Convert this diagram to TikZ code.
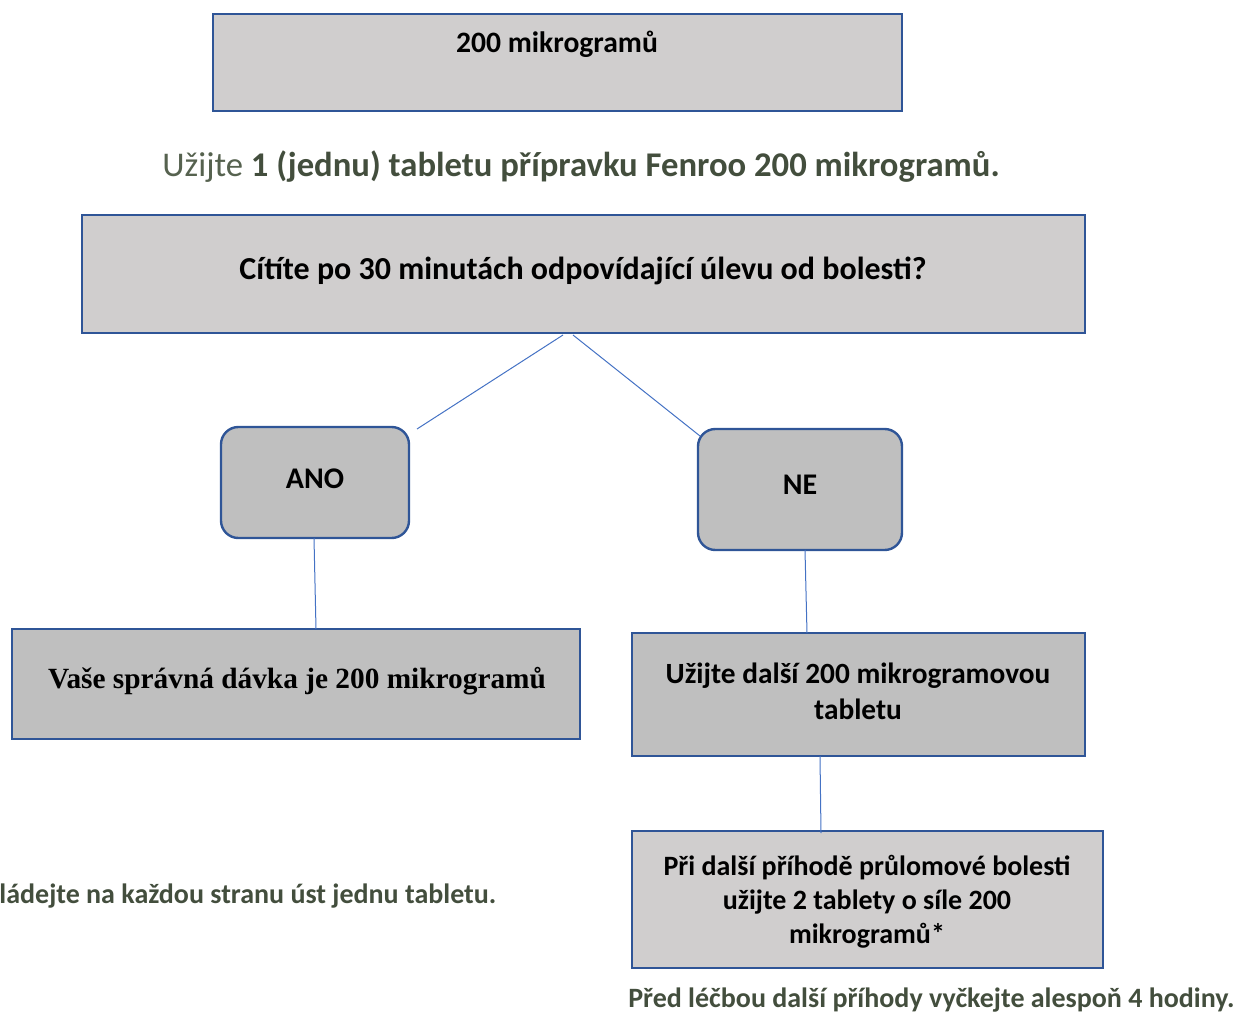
\documentclass[tikz,border=0pt]{standalone}
\usepackage{fontspec}
\setmainfont{Carlito}
\newfontfamily\timesf{Liberation Serif}
\definecolor{boxline}{HTML}{2F5597}
\definecolor{conn}{HTML}{4472C4}
\definecolor{fillA}{HTML}{D0CECE}
\definecolor{fillB}{HTML}{BFBFBF}
\definecolor{txtG}{HTML}{434E3D}
\definecolor{txtL}{HTML}{56624F}
\begin{document}
\begin{tikzpicture}[x=0.75pt,y=-0.75pt,
  rectbox/.style={draw=boxline,line width=1.8pt,inner sep=0pt},
  rbox/.style={draw=boxline,line width=1.8pt,rounded corners=13pt,inner sep=0pt},
  conline/.style={draw=conn,line width=0.75pt},
  lbl/.style={font=\bfseries,align=center,text=black}]
\clip (0,0) rectangle (1240,1014);
\useasboundingbox (0,0) rectangle (1240,1014);
% boxes
\path[rectbox,fill=fillA] (213,14) rectangle (902,111);
\path[rectbox,fill=fillA] (82,215) rectangle (1085,333);
\path[rbox,fill=fillB] (221,427) rectangle (409,538);
\path[rbox,fill=fillB] (698,429) rectangle (902,550);
\path[rectbox,fill=fillB] (12,629) rectangle (580,739);
\path[rectbox,fill=fillB] (632,633) rectangle (1085,756);
\path[rectbox,fill=fillA] (632,831) rectangle (1103,968);
% labels
\node[lbl,font=\bfseries\fontsize{22.2}{26}\selectfont] (top) at (557,44) {200 mikrogramů};
\node[font=\fontsize{26}{30}\selectfont,text=txtG] (sub) at (581,167) {{\color{txtL}Užijte} \textbf{1 (jednu) tabletu přípravku Fenroo 200 mikrogramů.}};
\node[lbl,font=\bfseries\fontsize{24}{28}\selectfont] (q) at (583,271) {Cítíte po 30 minutách odpovídající úlevu od bolesti?};
\node[lbl,font=\bfseries\fontsize{22.5}{26}\selectfont] (ano) at (315,479) {ANO};
\node[lbl,font=\bfseries\fontsize{22.5}{26}\selectfont] (ne) at (800,485) {NE};
\node[lbl,font=\timesf\bfseries\fontsize{22}{26}\selectfont] (dose) at (297,681) {Vaše správná dávka je 200 mikrogramů};
\node[lbl,font=\bfseries\fontsize{22}{27}\selectfont] (next) at (858,691) {Užijte další 200 mikrogramovou\\tabletu};
\node[lbl,font=\bfseries\fontsize{21}{25.5}\selectfont] (two) at (867,902) {Při další příhodě průlomové bolesti\\užijte 2 tablety o síle 200\\mikrogramů*};
\node[font=\bfseries\fontsize{21}{25}\selectfont,text=txtG,anchor=east] (side) at (501,896) {Vkládejte na každou stranu úst jednu tabletu.};
\node[font=\bfseries\fontsize{21}{25}\selectfont,text=txtG,anchor=east] (wait) at (1239,1000) {Před léčbou další příhody vyčkejte alespoň 4 hodiny.};
% connector end points
\coordinate (qL) at (563,335);
\coordinate (qR) at (573,335);
\coordinate (anoT) at (417,429);
\coordinate (neT) at (700,436);
\coordinate (anoB) at (314,538);
\coordinate (doseT) at (316,629);
\coordinate (neB) at (805,550);
\coordinate (nextT) at (807,633);
\coordinate (nextB) at (820,756);
\coordinate (twoT) at (821,833);
\draw[conline] (qL) -- (anoT);
\draw[conline] (qR) -- (neT);
\draw[conline] (anoB) -- (doseT);
\draw[conline] (neB) -- (nextT);
\draw[conline] (nextB) -- (twoT);
\end{tikzpicture}
\end{document}
